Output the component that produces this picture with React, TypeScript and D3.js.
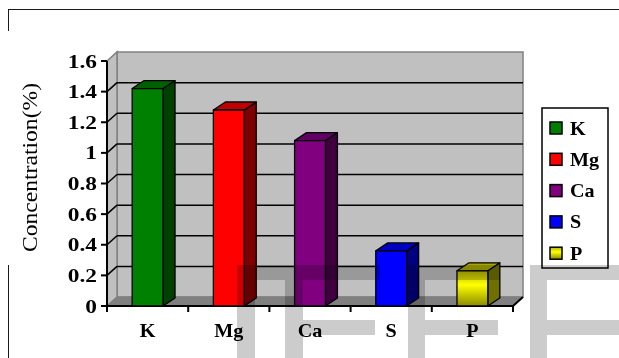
import React from "react";
import * as d3 from "d3";

// Element concentrations (%)
const categories = ["K", "Mg", "Ca", "S", "P"];
const concentrations = [1.42, 1.28, 1.08, 0.36, 0.23];
const yTickValues = [0, 0.2, 0.4, 0.6, 0.8, 1, 1.2, 1.4, 1.6];
const yTickLabels = ["0", "0.2", "0.4", "0.6", "0.8", "1", "1.2", "1.4", "1.6"];

// Face colours per column: front, top, side
const frontColors = ["#008000", "#ff0000", "#800080", "#0000ff", "url(#yellowGrad)"];
const topColors = ["#006000", "#c00000", "#600060", "#0000c0", "#a8a800"];
const sideColors = ["#004000", "#800000", "#400040", "#000080", "#707000"];

const W = 619;
const H = 358;
const FX0 = 107;
const FX1 = 513;
const WALL_DX = 10;
const WALL_DY = 9;
const BAR_DX = 12;
const BAR_DY = 8;

const SERIF = '"Liberation Serif", "Times New Roman", Times, serif';

// Light watermark blocks printed over the lower part of the figure
const watermark: [number, number, number, number][] = [
  [237, 265, 18, 93],
  [237, 265, 143, 15],
  [285, 280, 18, 78],
  [303, 320, 72, 15],
  [408, 265, 17, 93],
  [425, 265, 75, 15],
  [425, 320, 73, 15],
  [530, 265, 17, 93],
  [547, 265, 72, 15],
  [547, 320, 72, 15],
];

export default function App() {
  const x = d3.scaleBand<string>().domain(categories).range([FX0, FX1]);
  const y = d3.scaleLinear().domain([0, 1.6]).range([306, 61]);
  const y0 = y(0);
  const yTop = y(1.6);
  const bw = x.bandwidth() * 0.38;

  const pts = (p: [number, number][]) => p.map((q) => q.join(",")).join(" ");

  const boundaries = categories.map((c) => x(c) as number).concat([FX1]);

  const legendY = (i: number) => 128 + i * 31.3;

  const boldText: React.CSSProperties = { fontFamily: SERIF, fontWeight: 700, fontSize: "18px" };

  return (
    <svg width={W} height={H} style={{ position: "absolute", left: 0, top: 0 }}>
      <defs>
        <linearGradient id="yellowGrad" x1="0" y1="0" x2="0" y2="1">
          <stop offset="0%" stopColor="#b4b400" />
          <stop offset="40%" stopColor="#ffff00" />
          <stop offset="100%" stopColor="#8a8a00" />
        </linearGradient>
      </defs>
      <rect x={0} y={0} width={W} height={H} fill="#fff" />

      {/* back wall */}
      <rect
        x={FX0 + WALL_DX}
        y={yTop - WALL_DY}
        width={FX1 - FX0}
        height={y0 - yTop}
        fill="#c0c0c0"
        stroke="#808080"
        strokeWidth={1.5}
      />
      {/* side wall */}
      <polygon
        points={pts([
          [FX0, yTop],
          [FX0 + WALL_DX, yTop - WALL_DY],
          [FX0 + WALL_DX, y0 - WALL_DY],
          [FX0, y0],
        ])}
        fill="#c0c0c0"
        stroke="#808080"
        strokeWidth={1.5}
      />
      {/* floor */}
      <polygon
        points={pts([
          [FX0, y0],
          [FX0 + WALL_DX, y0 - WALL_DY],
          [FX1 + WALL_DX, y0 - WALL_DY],
          [FX1, y0],
        ])}
        fill="#808080"
        stroke="#808080"
        strokeWidth={1}
      />

      {/* gridlines */}
      {yTickValues
        .filter((v) => v > 0 && v < 1.6)
        .map((v) => (
          <g key={"g" + v} stroke="#000" strokeWidth={1.5}>
            <line x1={FX0 + WALL_DX} x2={FX1 + WALL_DX} y1={y(v) - WALL_DY} y2={y(v) - WALL_DY} />
            <line x1={FX0} x2={FX0 + WALL_DX} y1={y(v)} y2={y(v) - WALL_DY} />
          </g>
        ))}

      {/* axes */}
      <g stroke="#000" strokeWidth={2}>
        <line x1={FX0} x2={FX0} y1={yTop} y2={y0} />
        <line x1={FX0} x2={FX1} y1={y0} y2={y0} />
        <line x1={FX1} x2={FX1 + WALL_DX} y1={y0} y2={y0 - WALL_DY} />
        {yTickValues.map((v) => (
          <line key={"yt" + v} x1={FX0 - 6} x2={FX0} y1={y(v)} y2={y(v)} />
        ))}
        {boundaries.map((b, i) => (
          <line key={"xt" + i} x1={b} x2={b} y1={y0} y2={y0 + 6} />
        ))}
      </g>

      {/* columns */}
      {categories.map((c, i) => {
        const v = concentrations[i];
        const bx = (x(c) as number) + (x.bandwidth() - bw) / 2;
        const ty = y(v);
        return (
          <g key={c} stroke="#000" strokeWidth={1.3} strokeLinejoin="round">
            <polygon
              points={pts([
                [bx + bw, ty],
                [bx + bw + BAR_DX, ty - BAR_DY],
                [bx + bw + BAR_DX, y0 - BAR_DY],
                [bx + bw, y0],
              ])}
              fill={sideColors[i]}
            />
            <polygon
              points={pts([
                [bx, ty],
                [bx + BAR_DX, ty - BAR_DY],
                [bx + bw + BAR_DX, ty - BAR_DY],
                [bx + bw, ty],
              ])}
              fill={topColors[i]}
            />
            <rect x={bx} y={ty} width={bw} height={y0 - ty} fill={frontColors[i]} />
          </g>
        );
      })}

      {/* y tick labels */}
      {yTickValues.map((v, i) => (
        <text
          key={"yl" + v}
          transform={`translate(97,${y(v) + 6.5}) scale(1.3,1)`}
          textAnchor="end"
          style={boldText}
          fill="#000"
        >
          {yTickLabels[i]}
        </text>
      ))}

      {/* x labels */}
      {categories.map((c) => (
        <text
          key={"xl" + c}
          transform={`translate(${(x(c) as number) + x.bandwidth() / 2},337) scale(1.12,1)`}
          textAnchor="middle"
          style={boldText}
          fill="#000"
        >
          {c}
        </text>
      ))}

      {/* y axis title */}
      <text
        transform="translate(37,167.5) rotate(-90)"
        textAnchor="middle"
        style={{ fontFamily: SERIF, fontSize: "22px" }}
        textLength={169}
        lengthAdjust="spacingAndGlyphs"
        fill="#000"
      >
        Concentration(%)
      </text>

      {/* legend */}
      <rect x={542} y={108} width={66} height={160} fill="#fff" stroke="#000" strokeWidth={1.5} />
      {categories.map((c, i) => (
        <g key={"lg" + c}>
          <rect
            x={550}
            y={legendY(i) - 6}
            width={12}
            height={12}
            fill={frontColors[i]}
            stroke="#000"
            strokeWidth={1.5}
          />
          <text
            transform={`translate(570,${legendY(i) + 6.5}) scale(1.12,1)`}
            style={boldText}
            fill="#000"
          >
            {c}
          </text>
        </g>
      ))}

      {/* outer frame */}
      <g stroke="#1a1a1a" strokeWidth={1}>
        <line x1={8} x2={W} y1={9.5} y2={9.5} />
        <line x1={8.5} x2={8.5} y1={9} y2={31} />
        <line x1={8.5} x2={8.5} y1={265} y2={H} />
      </g>

      {/* watermark */}
      <g fill="#cccccc" style={{ mixBlendMode: "multiply" }}>
        {watermark.map(([wx, wy, ww, wh], i) => (
          <rect key={"wm" + i} x={wx} y={wy} width={ww} height={wh} />
        ))}
      </g>
    </svg>
  );
}
